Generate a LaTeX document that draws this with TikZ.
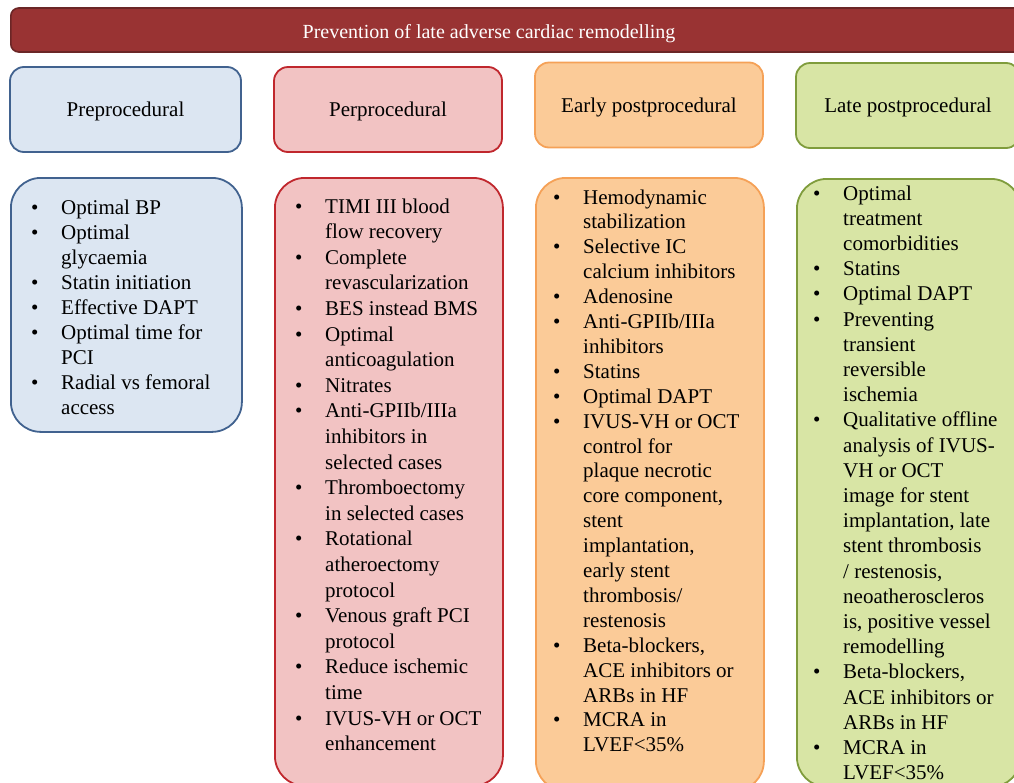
\documentclass[tikz,border=0pt]{standalone}
\usepackage{fontspec}
\setmainfont{Liberation Serif}
\usetikzlibrary{positioning}
\definecolor{bannerfill}{HTML}{993333}
\definecolor{bannerdraw}{HTML}{6B2626}
\definecolor{preFill}{HTML}{DCE6F2}
\definecolor{preDraw}{HTML}{41628F}
\definecolor{perFill}{HTML}{F2C3C3}
\definecolor{perDraw}{HTML}{C0272D}
\definecolor{earlyFill}{HTML}{FBCB98}
\definecolor{earlyDraw}{HTML}{F5A157}
\definecolor{lateFill}{HTML}{D8E5A5}
\definecolor{lateDraw}{HTML}{7F9C3C}
\tikzset{
  banner/.style={rectangle, rounded corners=8pt, line width=1.6pt, draw=bannerdraw,
    fill=bannerfill, minimum height=44pt, minimum width=1022pt, inner sep=0pt},
  phase/.style 2 args={rectangle, rounded corners=14pt, line width=1.8pt, draw=#1,
    fill=#2, minimum height=85pt, text depth=0pt, font=\fontsize{21}{25}\selectfont},
  panel/.style 2 args={rectangle, rounded corners=30pt, line width=1.8pt, draw=#1, fill=#2},
  items/.style={anchor=base west, inner sep=0pt, font=\fontsize{21}{#1}\selectfont},
  items/.default=25.3
}
\newcommand{\lst}[1]{\begin{tabular}[t]{@{}p{30pt}@{}l@{}}#1\end{tabular}}
\newcommand{\bul}{\textbullet}

\begin{document}
\begin{tikzpicture}[x=1pt,y=-1pt]
\useasboundingbox (0,0) rectangle (1014,782);
\clip (0,0) rectangle (1014,782);
\node[banner, anchor=west] (bar) at (10,30) {};
\node[font=\fontsize{20}{24}\selectfont, text=white, text depth=0pt] (title) at (489,31)
  {Prevention of late adverse cardiac remodelling};

\node[phase={preDraw}{preFill},   minimum width=231pt] (pre)   at (125.5,109.5) {Preprocedural};
\node[phase={perDraw}{perFill},   minimum width=228pt] (per)   at (388,109.5)   {Perprocedural};
\node[phase={earlyDraw}{earlyFill}, minimum width=228pt] (early) at (649,105)   {Early postprocedural};
\node[phase={lateDraw}{lateFill}, minimum width=224pt] (late)  at (908,105.5)   {Late postprocedural};

\node[panel={preDraw}{preFill},     minimum width=231pt, minimum height=254pt, anchor=north west] (pre-l)   at (10,177) {};
\node[panel={perDraw}{perFill},     minimum width=228pt, minimum height=608pt, anchor=north west] (per-l)   at (274,177) {};
\node[panel={earlyDraw}{earlyFill}, minimum width=228pt, minimum height=613pt, anchor=north west] (early-l) at (535,177) {};
\node[panel={lateDraw}{lateFill},   minimum width=224pt, minimum height=608pt, anchor=north west] (late-l)  at (796,178) {};

\node[items=25] (pre-t) at ([shift={(21,37)}]pre-l.north west) {\lst{
  \bul & Optimal BP\\
  \bul & Optimal\\ & glycaemia\\
  \bul & Statin initiation\\
  \bul & Effective DAPT\\
  \bul & Optimal time for\\ & PCI\\
  \bul & Radial vs femoral\\ & access}};

\node[items=25.6] (per-t) at ([shift={(21,36)}]per-l.north west) {\lst{
  \bul & TIMI III blood\\ & flow recovery\\
  \bul & Complete\\ & revascularization\\
  \bul & BES instead BMS\\
  \bul & Optimal\\ & anticoagulation\\
  \bul & Nitrates\\
  \bul & Anti-GPIIb/IIIa\\ & inhibitors in\\ & selected cases\\
  \bul & Thromboectomy\\ & in selected cases\\
  \bul & Rotational\\ & atheroectomy\\ & protocol\\
  \bul & Venous graft PCI\\ & protocol\\
  \bul & Reduce ischemic\\ & time\\
  \bul & IVUS-VH or OCT\\ & enhancement}};

\node[items=24.9] (early-t) at ([shift={(18,27)}]early-l.north west) {\lst{
  \bul & Hemodynamic\\ & stabilization\\
  \bul & Selective IC\\ & calcium inhibitors\\
  \bul & Adenosine\\
  \bul & Anti-GPIIb/IIIa\\ & inhibitors\\
  \bul & Statins\\
  \bul & Optimal DAPT\\
  \bul & IVUS-VH or OCT\\ & control for\\ & plaque necrotic\\ & core component,\\
       & stent\\ & implantation,\\ & early stent\\ & thrombosis/\\ & restenosis\\
  \bul & Beta-blockers,\\ & ACE inhibitors or\\ & ARBs in HF\\
  \bul & MCRA in\\ & LVEF<35\%}};

\node[items=25.2] (late-t) at ([shift={(17,22)}]late-l.north west) {\lst{
  \bul & Optimal\\ & treatment\\ & comorbidities\\
  \bul & Statins\\
  \bul & Optimal DAPT\\
  \bul & Preventing\\ & transient\\ & reversible\\ & ischemia\\
  \bul & Qualitative offline\\ & analysis of IVUS-\\ & VH or OCT\\ & image for stent\\
       & implantation, late\\ & stent thrombosis\\ & / restenosis,\\
       & neoatheroscleros\\ & is, positive vessel\\ & remodelling\\
  \bul & Beta-blockers,\\ & ACE inhibitors or\\ & ARBs in HF\\
  \bul & MCRA in\\ & LVEF<35\%}};
\end{tikzpicture}
\end{document}
